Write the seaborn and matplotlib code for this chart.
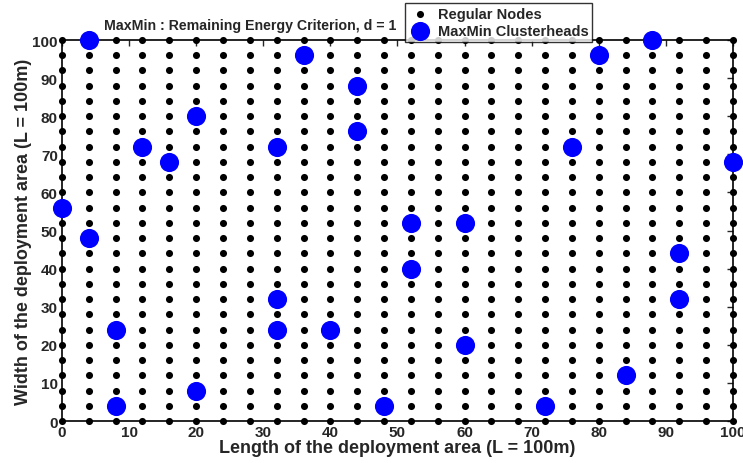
import numpy as np
import pandas as pd
import matplotlib
matplotlib.use("Agg")
import matplotlib.pyplot as plt
import seaborn as sns

# regular sensor grid positions (every 4 m)
grid_x = list(range(0, 101, 4))
grid_y = list(range(0, 101, 4))

# MaxMin clusterheads
ch_x = [0, 4, 4, 8, 8, 12, 16, 20, 20, 32, 32, 32, 36, 40, 44, 44, 48,
        52, 52, 60, 60, 72, 76, 80, 84, 88, 92, 92, 100]
ch_y = [56, 100, 48, 24, 4, 72, 68, 80, 8, 72, 32, 24, 96, 24, 88, 76, 4,
        52, 40, 52, 20, 4, 72, 96, 12, 100, 44, 32, 68]

ticks = list(range(0, 101, 10))

sns.set_style("white")
plt.rcParams["font.family"] = ["Liberation Sans", "DejaVu Sans"]
plt.rcParams["font.weight"] = "bold"

gx, gy = np.meshgrid(grid_x, grid_y)
nodes = pd.DataFrame({"x": gx.ravel(), "y": gy.ravel()})
heads = pd.DataFrame({"x": ch_x, "y": ch_y})

fig = plt.figure(figsize=(7.43, 4.64), dpi=100)
ax = fig.add_axes([0.0834, 0.0905, 0.9031, 0.8211])

sns.scatterplot(data=nodes, x="x", y="y", ax=ax, color="black", s=26,
                linewidth=0, label="Regular Nodes", clip_on=False, zorder=3)
sns.scatterplot(data=heads, x="x", y="y", ax=ax, color="#0000ff", s=190,
                linewidth=0, label="MaxMin Clusterheads", clip_on=False, zorder=4)

ax.set_xlim(0, 100)
ax.set_ylim(0, 100)
ax.set_xticks(ticks)
ax.set_yticks(ticks)
ax.tick_params(direction="in", length=4, width=1, labelsize=11,
               top=True, right=True, pad=3)
for lab in ax.get_xticklabels() + ax.get_yticklabels():
    lab.set_fontweight("bold")
for sp in ax.spines.values():
    sp.set_linewidth(1.2)
    sp.set_color("black")

ax.set_xlabel("Length of the deployment area (L = 100m)", fontsize=13,
              fontweight="bold", labelpad=0)
ax.set_ylabel("Width of the deployment area (L = 100m)", fontsize=13,
              fontweight="bold", labelpad=0)

fig.text(0.337, 0.944, "MaxMin : Remaining Energy Criterion, d = 1",
         ha="center", va="center", fontsize=10.2, fontweight="bold")

leg = ax.legend(loc="lower left", bbox_to_anchor=(0.545, 0.908),
                bbox_transform=fig.transFigure, frameon=True, fancybox=False,
                edgecolor="black", fontsize=10.5, handletextpad=0.4,
                borderpad=0.25, labelspacing=0.2, borderaxespad=0,
                handlelength=1.6)
leg.get_frame().set_linewidth(1.0)
for t in leg.get_texts():
    t.set_fontweight("bold")

fig.savefig("out.png", dpi=100)
